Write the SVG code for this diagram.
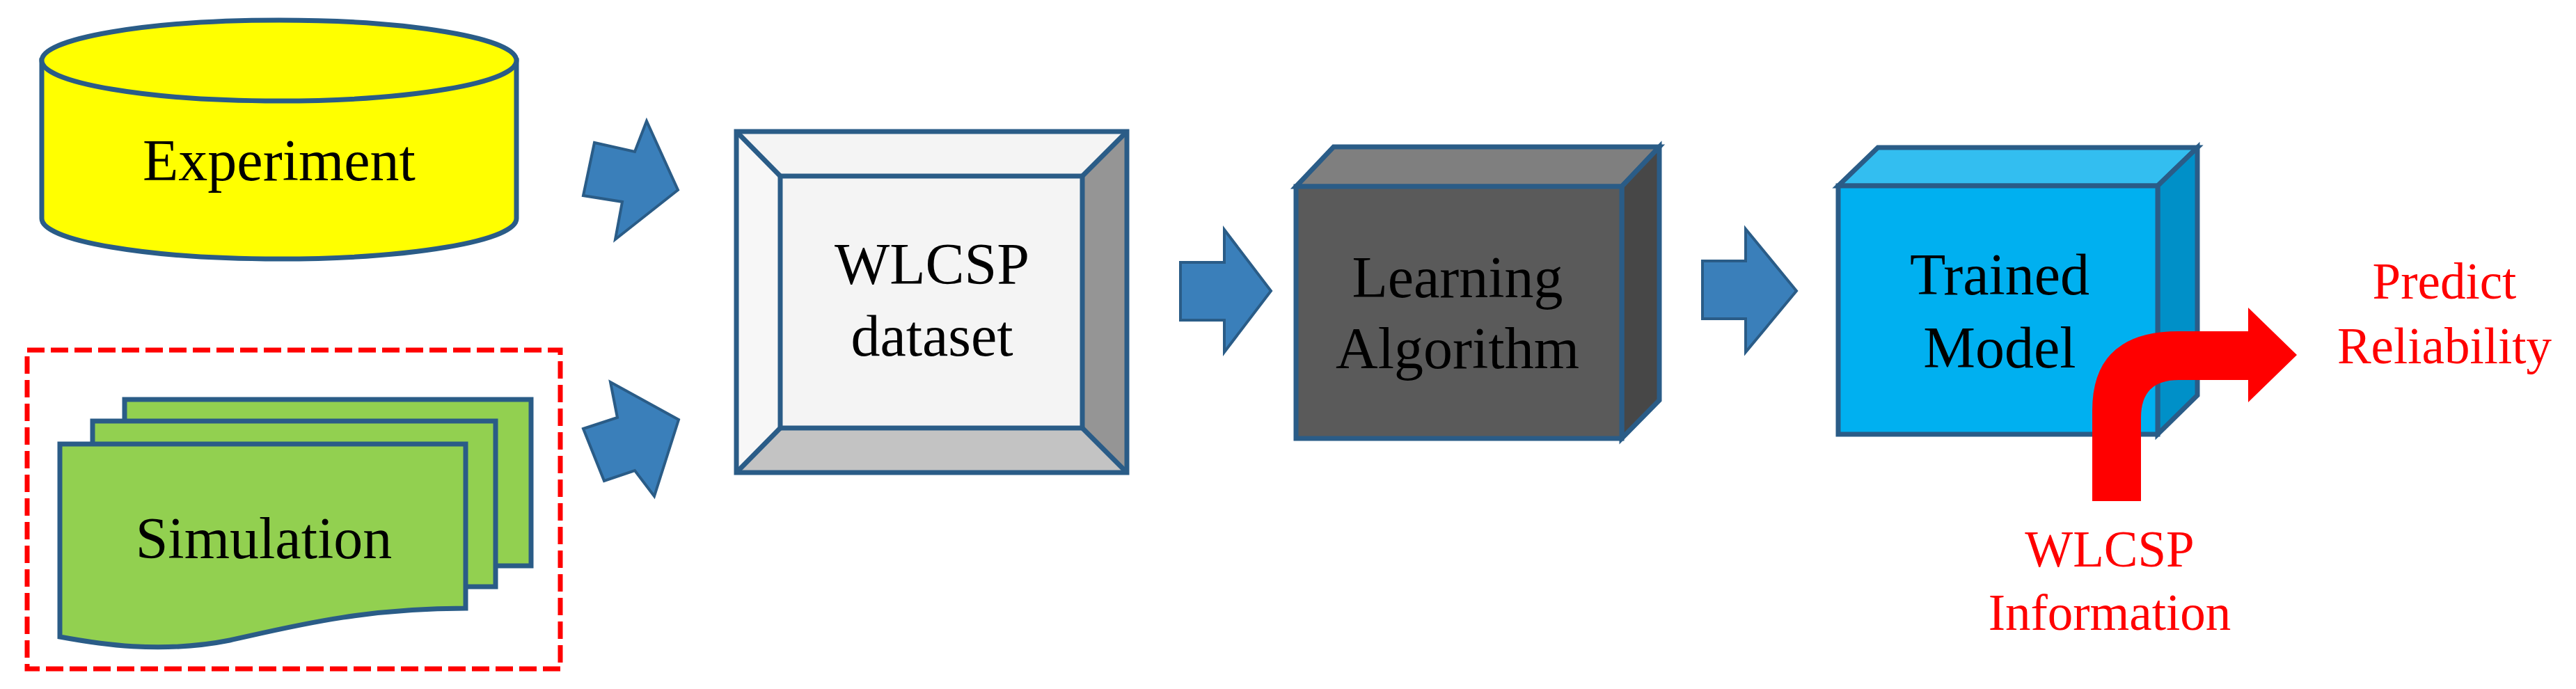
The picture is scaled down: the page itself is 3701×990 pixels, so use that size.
<svg xmlns="http://www.w3.org/2000/svg" width="3701" height="990" viewBox="0 0 3701 990">
<style>
.t{font-family:"Liberation Serif","Times New Roman",serif;font-size:84px;fill:#000;text-anchor:middle}
.r{font-family:"Liberation Serif","Times New Roman",serif;font-size:73px;fill:#ff0000;text-anchor:middle}
.e{stroke:#2a5c87;stroke-width:7;stroke-linejoin:miter}
.ar{fill:#3a7fba;stroke:#2a5c87;stroke-width:4;stroke-linejoin:miter}
</style>
<rect width="3701" height="990" fill="#fff"/>
<g id="experiment">
<path class="e" fill="#ffff00" d="M60,87 L60,314 A341,58 0 0 0 742,314 L742,87 Z"/>
<ellipse class="e" fill="#ffff00" cx="401" cy="87" rx="341" ry="58"/>
<text class="t" x="401" y="259">Experiment</text>
</g>
<g id="simulation">
<rect x="39" y="503" width="766" height="458" fill="none" stroke="#ff0000" stroke-width="7" stroke-dasharray="25,9"/>
<rect class="e" fill="#92d050" x="179" y="574" width="584" height="239"/>
<rect class="e" fill="#92d050" x="133" y="605" width="579" height="238"/>
<path class="e" fill="#92d050" d="M86,638 L669,638 L669,874 C520,874 420,900 330,920 C230,940 140,925 86,915 Z"/>
<text class="t" x="379" y="802">Simulation</text>
</g>
<g id="dataset">
<rect x="1058" y="189" width="561" height="490" fill="#f4f4f4"/>
<polygon points="1058,189 1121,253 1121,615 1058,679" fill="#f7f7f7"/>
<polygon points="1619,189 1555,253 1555,615 1619,679" fill="#959595"/>
<polygon points="1058,679 1121,615 1555,615 1619,679" fill="#c3c3c3"/>
<g class="e" fill="none" stroke-width="5">
<rect x="1121" y="253" width="434" height="362"/>
<path d="M1058,189 L1121,253 M1619,189 L1555,253 M1058,679 L1121,615 M1619,679 L1555,615"/>
</g>
<rect class="e" fill="none" stroke-width="9" x="1058" y="189" width="561" height="490"/>
<text class="t" x="1339" y="408">WLCSP</text>
<text class="t" x="1339" y="511">dataset</text>
</g>
<g id="learning">
<polygon class="e" fill="#7f7f7f" points="1862,268 1916,211 2384,211 2330,268"/>
<polygon class="e" fill="#474747" points="2330,268 2384,211 2384,575 2330,630"/>
<rect class="e" fill="#5a5a5a" x="1862" y="268" width="468" height="362"/>
<text class="t" x="2094" y="427">Learning</text>
<text class="t" x="2094" y="529">Algorithm</text>
</g>
<g id="trained">
<polygon class="e" fill="#33bef0" points="2641,267 2698,212 3157,212 3100,267"/>
<polygon class="e" fill="#0090c8" points="3100,267 3157,212 3157,568 3100,624"/>
<rect class="e" fill="#00b0f0" x="2641" y="267" width="459" height="357"/>
<text class="t" x="2873" y="423">Trained</text>
<text class="t" x="2873" y="528">Model</text>
</g>
<g id="connectors">
<polygon class="ar" points="838,281 854,205 912,218 929,174 974,273 884,344 894,290"/>
<polygon class="ar" points="838,616 887,600 877,549 975,603 940,713 912,676 868,691"/>
<polygon class="ar" points="1696,377 1759,377 1759,330 1826,418 1759,506 1759,460 1696,460"/>
<polygon class="ar" points="2446,375 2508,375 2508,329 2581,418 2508,506 2508,458 2446,458"/>
<path fill="#ff0000" d="M3006,720 L3006,590 Q3006,476 3130,476 L3230,476 L3230,442 L3300,510 L3230,578 L3230,546 L3130,546 Q3076,546 3076,600 L3076,720 Z"/>
</g>
<g id="labels">
<text class="r" x="3512" y="429">Predict</text>
<text class="r" x="3512" y="522">Reliability</text>
<text class="r" x="3031" y="814">WLCSP</text>
<text class="r" x="3031" y="905">Information</text>
</g>
</svg>
